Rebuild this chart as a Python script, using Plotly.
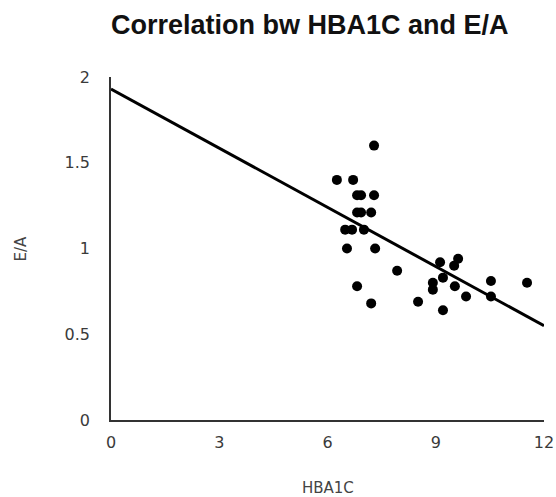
import plotly.graph_objects as go

hba1c = [6.26, 6.71, 7.29, 6.82, 6.93, 7.29, 6.82, 6.93, 7.21, 6.49, 6.68, 7.01,
         6.54, 7.32, 6.82, 7.21, 7.93, 8.51, 9.12, 9.62, 9.51, 9.20, 8.92, 8.92,
         9.53, 9.84, 9.20, 10.53, 10.53, 11.53]
ea = [1.40, 1.40, 1.60, 1.31, 1.31, 1.31, 1.21, 1.21, 1.21, 1.11, 1.11, 1.11,
      1.00, 1.00, 0.78, 0.68, 0.87, 0.69, 0.92, 0.94, 0.90, 0.83, 0.80, 0.76,
      0.78, 0.72, 0.64, 0.81, 0.72, 0.80]
trend_x = [0, 12]
trend_y = [1.93, 0.55]
x_ticks = [0, 3, 6, 9, 12]
y_ticks = [0, 0.5, 1, 1.5, 2]
y_tick_text = ["0", "0.5", "1", "1.5", "2"]

fig = go.Figure()
fig.add_trace(go.Scatter(x=trend_x, y=trend_y, mode="lines",
                         line=dict(color="black", width=3), showlegend=False,
                         hoverinfo="skip"))
fig.add_trace(go.Scatter(x=hba1c, y=ea, mode="markers",
                         marker=dict(color="black", size=10), showlegend=False))

axis_font = dict(family="DejaVu Sans, sans-serif", size=16, color="#3a3a3a")
fig.update_layout(
    width=556, height=497,
    margin=dict(l=111, r=12, t=77, b=77),
    paper_bgcolor="white", plot_bgcolor="white",
    xaxis=dict(range=[0, 12], tickvals=x_ticks, showgrid=False, zeroline=False,
               showline=True, linecolor="#333333", linewidth=1.5, ticks="",
               tickfont=axis_font, ticklabelstandoff=7, fixedrange=True,
               automargin=False),
    yaxis=dict(range=[0, 2], tickvals=y_ticks, ticktext=y_tick_text, showgrid=False,
               zeroline=False, showline=True, linecolor="#333333", linewidth=1.5,
               ticks="", tickfont=axis_font, ticklabelstandoff=16, fixedrange=True,
               automargin=False),
    annotations=[
        dict(text="<b>Correlation bw HBA1C and E/A</b>", xref="paper", yref="paper",
             x=0.46, y=1, yshift=52, xanchor="center", yanchor="middle",
             showarrow=False,
             font=dict(family="Liberation Sans, Arial, sans-serif", size=27, color="#111111")),
        dict(text="HBA1C", xref="paper", yref="paper", x=0.5, y=0, yshift=-68,
             xanchor="center", yanchor="middle", showarrow=False,
             font=dict(family="DejaVu Sans, sans-serif", size=15, color="#444444")),
        dict(text="E/A", xref="paper", yref="paper", x=0, xshift=-91, y=0.5,
             xanchor="center", yanchor="middle", textangle=-90, showarrow=False,
             font=dict(family="DejaVu Sans, sans-serif", size=15, color="#444444")),
    ],
)
fig.write_html("out.html", config={"displayModeBar": False},
               post_script="document.body.style.margin='0';document.body.style.overflow='hidden';")
